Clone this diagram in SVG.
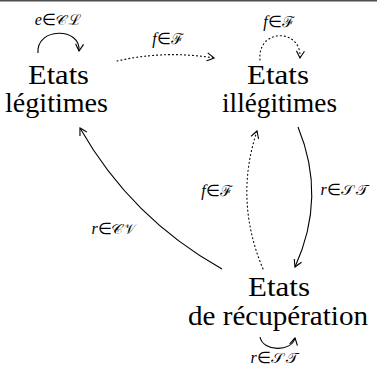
<svg xmlns="http://www.w3.org/2000/svg" width="377" height="372" viewBox="0 0 377 372">
<style>
.node{font-family:'Liberation Serif',serif;font-size:27px;fill:#000}
.lab{font-family:'Liberation Serif',serif;font-size:16px;fill:#000;text-anchor:middle}
.it{font-style:italic}
.m{font-family:'Noto Sans Math','Liberation Serif',serif;font-size:15px}
.e{stroke:#000;stroke-width:1.1;fill:none}
.d{stroke-dasharray:1 3;stroke-linecap:round}
</style>
<defs>
<marker id="ah" viewBox="-8 -5 10 10" markerWidth="10" markerHeight="10" refX="0" refY="0" orient="auto" markerUnits="userSpaceOnUse">
<path d="M -7 -4 Q -2 -1.2 0 0 Q -2 1.2 -7 4" fill="none" stroke="#000" stroke-width="1.1"/>
</marker>
</defs>
<rect x="0" y="0" width="377" height="1.5" fill="#4d4d4d"/>
<g id="connectors">
<path class="e" d="M 38 53 C 36 27, 81 27, 79 51" marker-end="url(#ah)"/>
<path class="e d" d="M 117 61 Q 165 50 214 58" marker-end="url(#ah)"/>
<path class="e d" d="M 260 60 C 257 28, 302 28, 300 58" marker-end="url(#ah)"/>
<path class="e" d="M 222 269 Q 131 218 80 128" marker-end="url(#ah)"/>
<path class="e d" d="M 263 269 Q 234 200 257 131" marker-end="url(#ah)"/>
<path class="e" d="M 298 127 Q 327 197 295 267" marker-end="url(#ah)"/>
<path class="e" d="M 260 337 C 263 352, 292 352, 295 338" marker-end="url(#ah)"/>
<text class="lab" x="58" y="25" font-family="Liberation Serif"><tspan class="it">e</tspan>∈<tspan class="m">𝒞ℒ</tspan></text>
<text class="lab" x="168" y="44" font-family="Liberation Serif"><tspan class="it">f</tspan>∈<tspan class="m">ℱ</tspan></text>
<text class="lab" x="279" y="27" font-family="Liberation Serif"><tspan class="it">f</tspan>∈<tspan class="m">ℱ</tspan></text>
<text class="lab" x="114" y="234" font-family="Liberation Serif"><tspan class="it">r</tspan>∈<tspan class="m">𝒞𝒱</tspan></text>
<text class="lab" x="217" y="196" font-family="Liberation Serif"><tspan class="it">f</tspan>∈<tspan class="m">ℱ</tspan></text>
<text class="lab" x="345" y="195" font-family="Liberation Serif"><tspan class="it">r</tspan>∈<tspan class="m">𝒮𝒯</tspan></text>
<text class="lab" x="275" y="363" font-family="Liberation Serif"><tspan class="it">r</tspan>∈<tspan class="m">𝒮𝒯</tspan></text>
</g>
<g id="legitimes">
<text class="node" font-family="Liberation Serif" x="28" y="84" textLength="61" lengthAdjust="spacingAndGlyphs">Etats</text>
<text class="node" font-family="Liberation Serif" x="5" y="112" textLength="103" lengthAdjust="spacingAndGlyphs">légitimes</text>
</g>
<g id="illegitimes">
<text class="node" font-family="Liberation Serif" x="247" y="84" textLength="62" lengthAdjust="spacingAndGlyphs">Etats</text>
<text class="node" font-family="Liberation Serif" x="222" y="112" textLength="115" lengthAdjust="spacingAndGlyphs">illégitimes</text>
</g>
<g id="recuperation">
<text class="node" font-family="Liberation Serif" x="248" y="296" textLength="62" lengthAdjust="spacingAndGlyphs">Etats</text>
<text class="node" font-family="Liberation Serif" x="188" y="325" textLength="180" lengthAdjust="spacingAndGlyphs">de récupération</text>
</g>
</svg>
